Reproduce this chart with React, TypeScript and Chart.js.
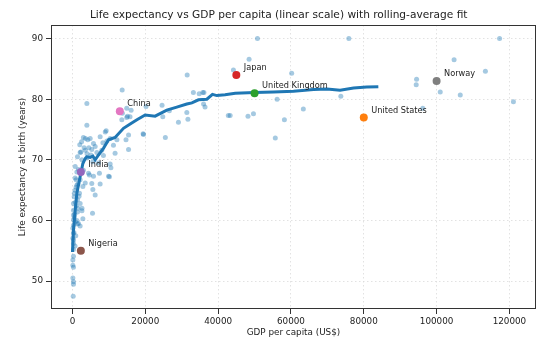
import React, { useEffect, useRef } from "react";
import { Chart, registerables } from "chart.js";
Chart.register(...registerables);

const gdp = [
  117300, 104800, 113400, 94500, 94400, 101000, 106500, 121100, 96200,
  50800, 75900, 48500, 44200, 60200, 56200, 73700, 63400, 43300, 48200, 49700, 58200, 55700,
  31500, 33200, 34800, 35800, 36100, 36000, 36400, 42800, 31400, 31700, 29100,
  24600, 24800, 26600, 25500, 19400, 20200, 16100, 15800, 14900, 15400, 15400, 14700,
  13650, 3950, 13700, 15100, 13550, 3950, 9250, 14900, 3000, 4200, 7600, 10350, 12200, 19500,
  5770, 8350, 9000, 9450, 11250, 2100, 3500, 5300, 6700, 8050, 11700,
  1370, 2600, 3950, 5600, 7150, 10550, 740, 1650, 3000, 4650, 5770, 7400, 9900,
  740, 2100, 3500, 1200, 2850, 5600, 7600, 740, 1920, 6230, 470, 1370,
  270, 1000, 2100, 270, 1370, 2600, 5500, 270, 270, 1200, 270, 1370, 2100,
  100, 270, 100, 270, 270, 270, 100, 100, 270, 100, 270, 270, 200,
  3570, 4860, 2300, 6230, 5050, 10350, 8500, 1200, 4400, 10150, 1000, 5300, 2850, 1650, 2600,
  500, 800, 600, 400, 900, 300, 700, 500, 800, 1500, 1800, 1000, 1500,
  2000, 2500, 3200, 4000, 4500
];
const life = [
  90.0, 86.5, 84.6, 83.3, 82.4, 81.2, 80.7, 79.6, 78.5,
  90.0, 90.0, 86.6, 84.8, 84.3, 80.0, 80.5, 78.4, 77.3, 77.2, 77.6, 76.6, 73.6,
  84.0, 81.1, 80.9, 81.1, 81.1, 79.2, 78.7, 77.3, 77.8, 76.7, 76.2,
  79.0, 77.1, 78.1, 73.7, 74.3, 78.8, 78.2, 77.1, 77.0, 74.1, 71.7, 73.3,
  81.5, 79.3, 77.7, 77.2, 76.6, 75.7, 74.8, 78.5, 73.7, 73.3, 73.8, 73.5, 73.3, 74.2,
  72.7, 72.8, 74.6, 73.1, 72.4, 71.2, 71.6, 71.7, 71.2, 71.6, 71.1,
  70.5, 70.0, 70.3, 69.7, 69.5, 68.7, 68.9, 68.4, 68.3, 67.5, 67.3, 67.8, 67.3,
  67.0, 66.7, 66.2, 65.8, 65.6, 65.1, 66.0, 65.0, 64.5, 64.2, 63.9, 63.4,
  62.8, 62.4, 62.8, 61.7, 61.4, 61.6, 61.2, 60.9, 60.1, 60.0, 59.2, 59.4, 59.1,
  58.7, 57.9, 57.05, 56.2, 55.2, 54.1, 53.5, 52.6, 52.3, 50.5, 49.9, 49.5, 47.5,
  73.5, 73.5, 71.3, 72.2, 70.8, 69.3, 70.7, 68.0, 67.8, 67.2, 66.7, 66.1, 60.3, 59.5, 62.0,
  64.5, 63.0, 61.0, 58.0, 57.5, 56.8, 55.8, 60.5, 59.8, 62.0, 64.0, 65.5, 66.0,
  72.5, 73.0, 72.0, 71.0, 72.0
];

const fitGdp = [
  0, 270, 750, 1200, 2100, 2850, 3500, 3950, 4850, 5600, 6230, 7150, 8500, 9900, 11700,
  14000, 15850, 17700, 19950, 22700, 25900, 28650, 31400, 32800, 34600, 36900, 38450,
  39650, 41900, 44700, 50000, 55200, 60700, 66200, 69900, 73500, 77200, 80800, 84000
];
const fitLife = [
  54.8, 58.4, 61.7, 64.5, 67.2, 69.4, 70.2, 70.5, 70.4, 70.6, 70.0, 70.8, 71.9, 73.3, 73.7,
  75.2, 75.9, 76.6, 77.4, 77.2, 78.2, 78.7, 79.2, 79.4, 79.9, 80.0, 80.8,
  80.6, 80.75, 81.0, 81.1, 81.2, 81.3, 81.6, 81.7, 81.5, 81.85, 82.0, 82.06
];

const countries = ["Japan", "United Kingdom", "United States", "Norway", "China", "India", "Nigeria"];
const countryGdp = [45000, 50000, 80000, 100000, 13000, 2300, 2300];
const countryLife = [84, 81, 77, 83, 78, 68, 55];
const countryColors = ["#d62728", "#2ca02c", "#ff7f0e", "#7f7f7f", "#e377c2", "#9467bd", "#8c564b"];

const xTicks = [0, 20000, 40000, 60000, 80000, 100000, 120000];
const yTicks = [50, 60, 70, 80, 90];

const TITLE = "Life expectancy vs GDP per capita (linear scale) with rolling-average fit";
const XLABEL = "GDP per capita (US$)";
const YLABEL = "Life expectancy at birth (years)";
const FONT = '"DejaVu Sans", sans-serif';

export default function App() {
  const ref = useRef<HTMLCanvasElement | null>(null);
  useEffect(() => {
    const canvas = ref.current;
    if (!canvas) return;
    const decor = {
      id: "decor",
      afterDatasetsDraw(chart: any) {
        const ctx = chart.ctx;
        const meta = chart.getDatasetMeta(0);
        ctx.save();
        ctx.font = `8.2px ${FONT}`;
        ctx.fillStyle = "#222";
        ctx.textAlign = "left";
        ctx.textBaseline = "middle";
        meta.data.forEach((pt: any, i: number) => {
          ctx.fillText(countries[i], pt.x + 7.5, pt.y - 7);
        });
        ctx.restore();
      },
      afterDraw(chart: any) {
        const ctx = chart.ctx;
        const a = chart.chartArea;
        ctx.save();
        ctx.strokeStyle = "#333";
        ctx.lineWidth = 1;
        ctx.strokeRect(Math.round(a.left) + 0.5, Math.round(a.top) + 0.5, Math.round(a.right - a.left) - 1, Math.round(a.bottom - a.top) - 1);
        ctx.fillStyle = "#222";
        ctx.textAlign = "center";
        ctx.textBaseline = "middle";
        ctx.font = `10.6px ${FONT}`;
        ctx.fillText(TITLE, 278.7, 15.7);
        ctx.font = `8.8px ${FONT}`;
        ctx.fillText(XLABEL, (a.left + a.right) / 2, 333);
        ctx.translate(23, (a.top + a.bottom) / 2);
        ctx.rotate(-Math.PI / 2);
        ctx.fillText(YLABEL, 0, 0);
        ctx.restore();
      },
    };
    const chart = new Chart(canvas, {
      type: "scatter",
      data: {
        datasets: [
          {
            data: countryGdp.map((x, i) => ({ x, y: countryLife[i] })),
            backgroundColor: countryColors,
            borderColor: countryColors,
            pointRadius: 4,
            pointBorderWidth: 0,
            order: 1,
          },
          {
            data: fitGdp.map((x, i) => ({ x, y: fitLife[i] })),
            showLine: true,
            borderColor: "#1f77b4",
            borderWidth: 3,
            pointRadius: 0,
            tension: 0,
            order: 2,
          } as any,
          {
            data: gdp.map((x, i) => ({ x, y: life[i] })),
            backgroundColor: "rgba(31,119,180,0.4)",
            borderWidth: 0,
            pointRadius: 2.5,
            order: 3,
          },
        ],
      },
      options: {
        animation: false,
        responsive: false,
        devicePixelRatio: 1,
        layout: { padding: { top: 25, right: 14, left: 0, bottom: 0 } },
        plugins: { legend: { display: false }, tooltip: { enabled: false }, title: { display: false } },
        scales: {
          x: {
            type: "linear",
            min: -5900,
            max: 127300,
            afterFit: (s: any) => { s.height = 42; },
            afterBuildTicks: (s: any) => { s.ticks = xTicks.map((v) => ({ value: v })); },
            ticks: { callback: (v: any) => String(v), color: "#222", font: { family: FONT, size: 8.8 }, padding: 2, maxRotation: 0 },
            grid: { color: "#dadada", lineWidth: 0.8, tickColor: "#333", tickLength: 5, tickWidth: 1 },
            border: { display: false, dash: [1.5, 2.5] },
          },
          y: {
            type: "linear",
            min: 45.4,
            max: 92.24,
            afterFit: (s: any) => { s.width = 51; },
            afterBuildTicks: (s: any) => { s.ticks = yTicks.map((v) => ({ value: v })); },
            ticks: { callback: (v: any) => String(v), color: "#222", font: { family: FONT, size: 8.8 }, padding: 3 },
            grid: { color: "#dadada", lineWidth: 0.8, tickColor: "#333", tickLength: 5, tickWidth: 1 },
            border: { display: false, dash: [1.5, 2.5] },
          },
        },
      },
      plugins: [decor],
    } as any);
    return () => chart.destroy();
  }, []);
  return (
    <div style={{ position: "absolute", left: 0, top: 0, width: 550, height: 351, background: "#fff" }}>
      <canvas ref={ref} width={550} height={351} />
    </div>
  );
}
